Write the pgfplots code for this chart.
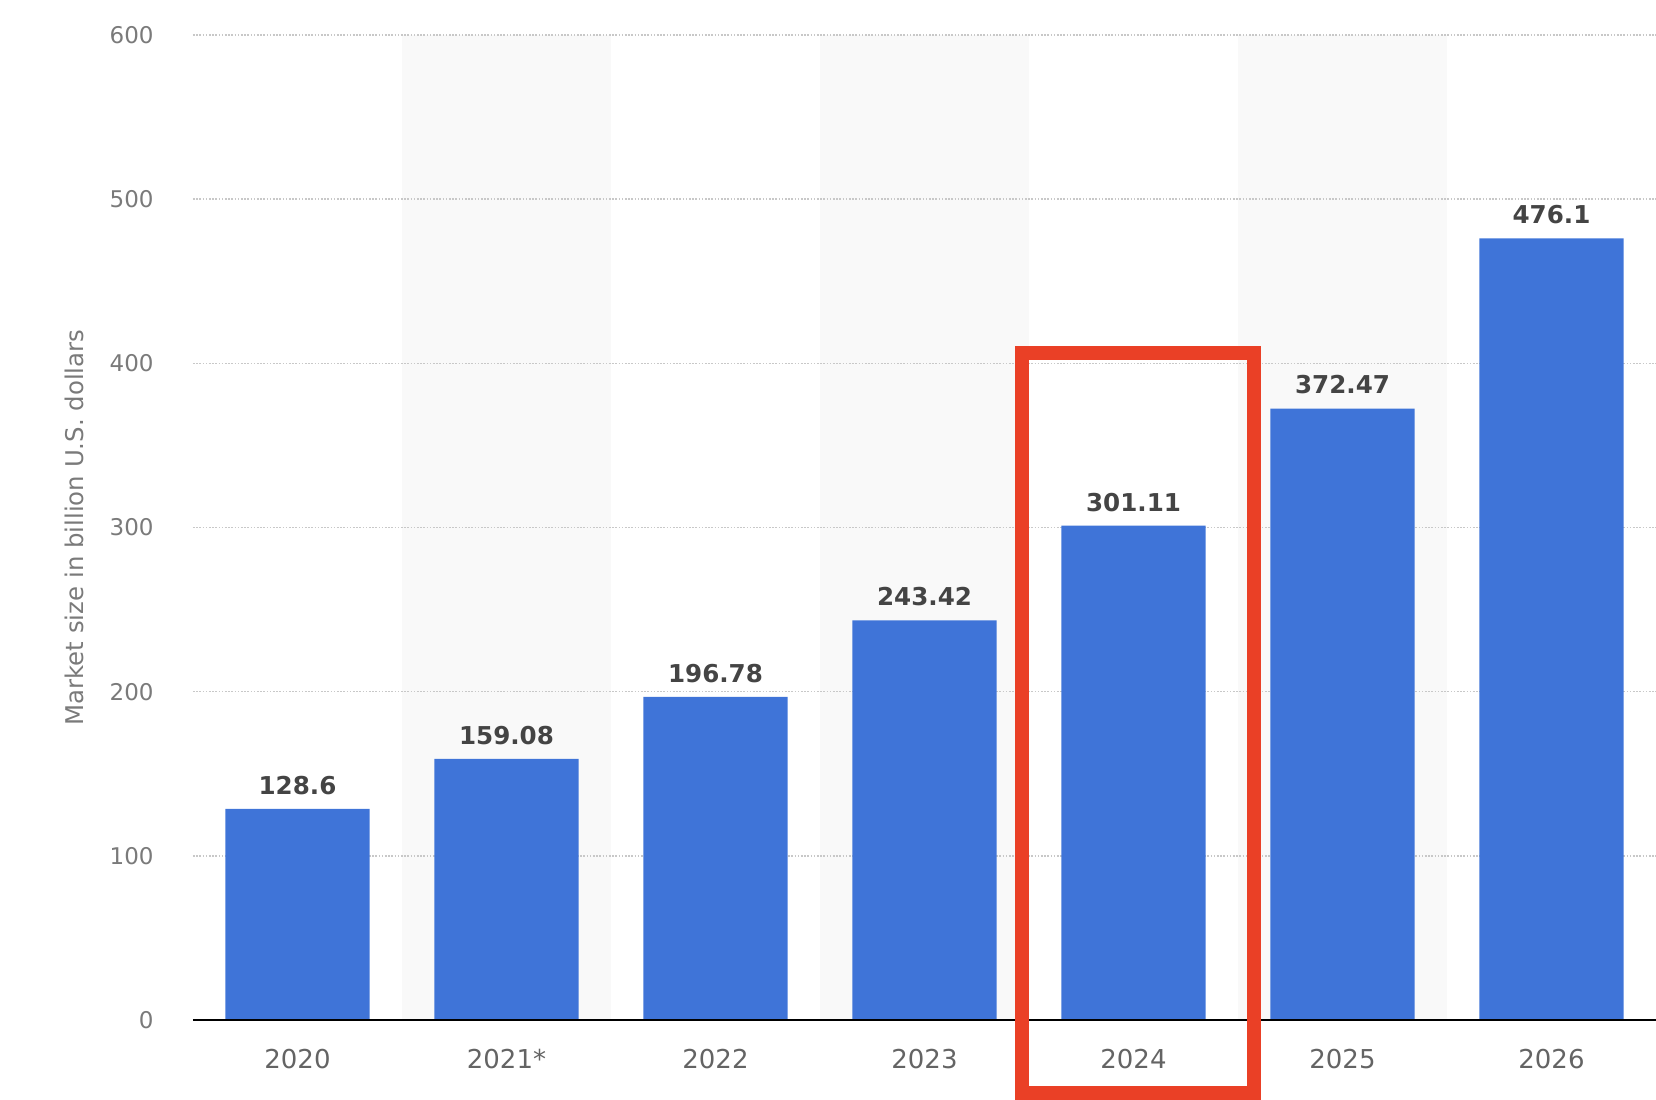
\documentclass[border=0pt]{standalone}
\usepackage{pgfplots}
\pgfplotsset{compat=1.18}
\usepackage{fontspec}
\setmainfont{DejaVu Sans}
\usetikzlibrary{calc}
\definecolor{barblue}{RGB}{63,116,216}
\definecolor{bandgray}{RGB}{249,249,249}
\definecolor{gridgray}{RGB}{200,200,200}
\definecolor{ytickgray}{RGB}{122,122,122}
\definecolor{xtickgray}{RGB}{100,100,100}
\definecolor{labelgray}{RGB}{68,68,68}
\definecolor{redbox}{RGB}{234,64,38}
\begin{document}
\begin{tikzpicture}
\begin{axis}[
  scale only axis,
  width=731.5pt, height=492.5pt,
  xmin=-0.5, xmax=6.5, ymin=0, ymax=600,
  clip=false,
  axis line style={draw=none},
  major tick length=0pt,
  xtick={0,1,2,3,4,5,6},
  xticklabels={2020,2021*,2022,2023,2024,2025,2026},
  ytick={0,100,200,300,400,500,600},
  /pgf/number format/assume math mode=true,
  xticklabel style={font=\fontsize{13}{15}\selectfont, text=xtickgray, anchor=base, inner sep=0pt, yshift=-24.25pt},
  yticklabel style={font=\fontsize{11.5}{14}\selectfont, text=ytickgray, anchor=east, inner sep=0pt, xshift=-19.5pt},
  ylabel={Market size in billion U.S. dollars},
  every axis y label/.style={at={(rel axis cs:0,0.5)}, xshift=-59.5pt, rotate=90, anchor=center, font=\fontsize{12.2}{14}\selectfont, text=ytickgray},
  ybar, bar width=0.69,
  nodes near coords,
  point meta=explicit symbolic,
  every node near coord/.append style={font=\bfseries\fontsize{12.3}{14}\selectfont, text=labelgray, anchor=base, inner sep=0pt, yshift=7.3pt},
]
\fill[bandgray] (axis cs:0.5,0) rectangle (axis cs:1.5,600);
\fill[bandgray] (axis cs:2.5,0) rectangle (axis cs:3.5,600);
\fill[bandgray] (axis cs:4.5,0) rectangle (axis cs:5.5,600);
\foreach \g in {100,200,300,400,500,600} {
  \edef\tmp{\noexpand\draw[gridgray, line width=0.8pt, dash pattern=on 0.8pt off 0.8pt] (axis cs:-0.5,\g) -- (axis cs:6.5,\g);}
  \tmp
}
\addplot[fill=barblue, draw=none] coordinates {
  (0,128.6) [128.6]
  (1,159.08) [159.08]
  (2,196.78) [196.78]
  (3,243.42) [243.42]
  (4,301.11) [301.11]
  (5,372.47) [372.47]
  (6,476.1) [476.1]
};
\draw[black, line width=1.2pt] (axis cs:-0.5,0) -- (axis cs:6.5,0);
\draw[redbox, line width=7pt, line join=miter] (axis cs:3.4665,406.3) rectangle (axis cs:4.5766,-44.47);
\end{axis}
\pgfresetboundingbox
\path[use as bounding box] ($(current axis.south west)+(-96.5pt,-40pt)$) rectangle ($(current axis.north east)+(0pt,17.5pt)$);
\end{tikzpicture}
\end{document}
